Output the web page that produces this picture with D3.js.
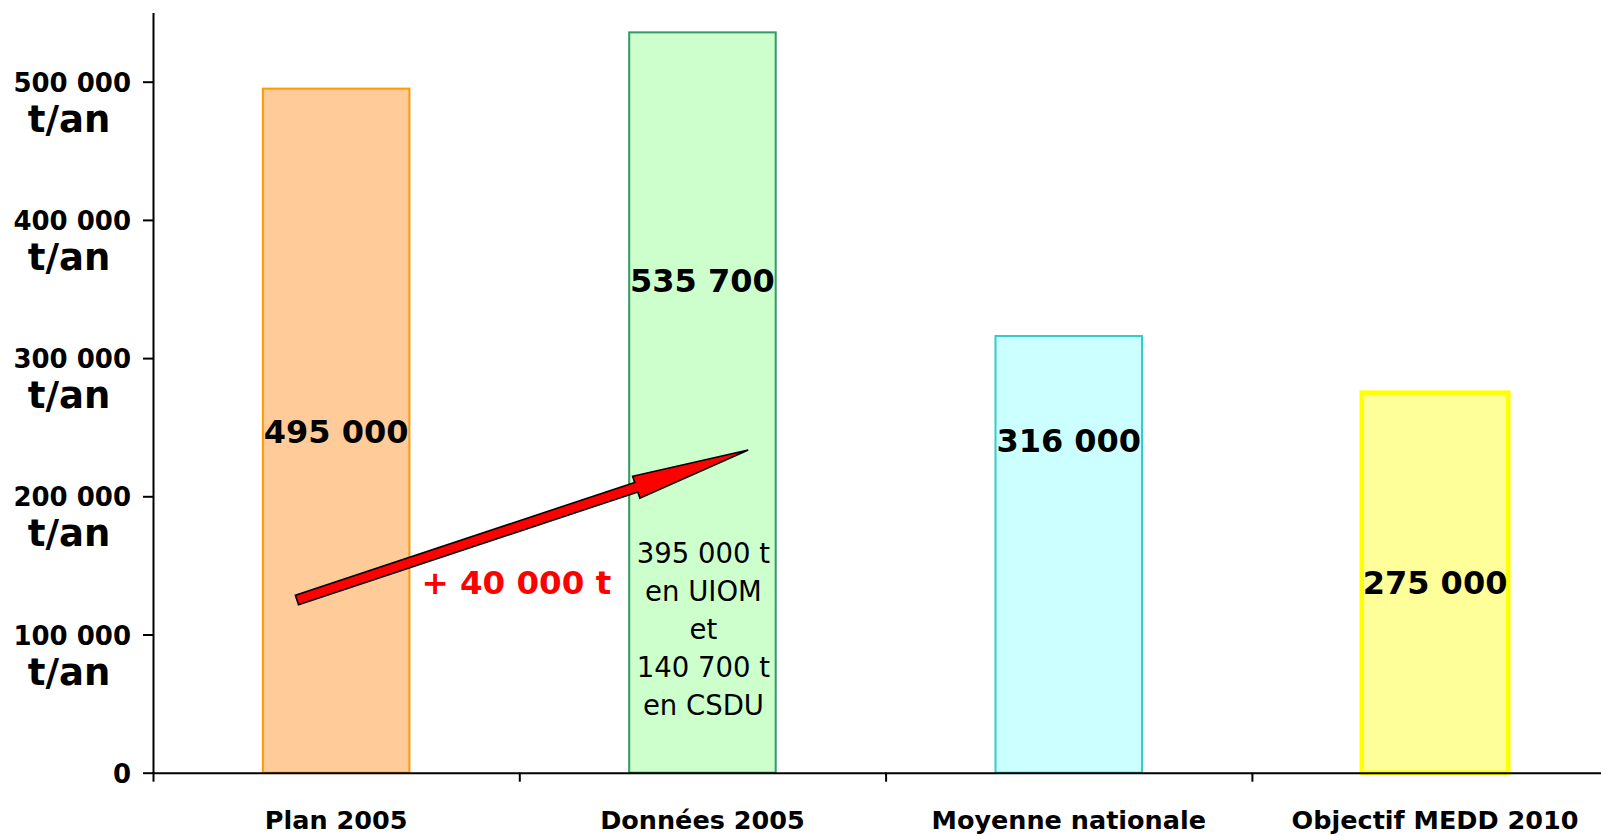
<!DOCTYPE html>
<html><head><meta charset="utf-8">
<script src="https://cdn.jsdelivr.net/npm/d3@7"></script>
<style>body{margin:0;background:#fff;} svg{display:block;font-family:"DejaVu Sans",Verdana,sans-serif;}</style>
</head><body><svg id="c" width="1601" height="836"></svg>
<script>
const categories = ["Plan 2005", "Données 2005", "Moyenne nationale", "Objectif MEDD 2010"];
const values = [495000, 535700, 316000, 275000];
const valueLabels = ["495 000", "535 700", "316 000", "275 000"];
const labelAnchors = [247000, 356500, 240700, 137500];
const fills = ["#FFCC99", "#CCFFCC", "#CCFFFF", "#FFFF99"];
const strokes = ["#FF9900", "#339966", "#33CCCC", "#FFFF00"];
const yTicks = [0, 100000, 200000, 300000, 400000, 500000];
const yTickLabels = ["0", "100 000", "200 000", "300 000", "400 000", "500 000"];
const yUnit = "t/an";
const detailLines = ["395 000 t", "en UIOM", "et", "140 700 t", "en CSDU"];
const detailAnchor = 159000;
const arrowFrom = {cat: "Plan 2005", shift: -0.107, value: 125000};
const arrowTo = {cat: "Données 2005", shift: 0.125, value: 233500};
const deltaLabel = "+ 40 000 t";
const deltaAnchor = 138000;

const svg = d3.select("#c");
const x0 = 153, yBase = 772.7, yTop = 12.6, step = 366.3;
const y = d3.scaleLinear().domain([0, 550000]).range([yBase, yTop]);
const x = d3.scaleBand().domain(categories).range([x0, x0 + 4 * step]).paddingInner(0.6).paddingOuter(0.3);
const xi = d3.scaleLinear().domain([0, 4]).range([x0, x0 + 4 * step]);
const cx = c => x(c) + x.bandwidth() / 2;

// bars
svg.append("g").selectAll("rect").data(categories).join("rect")
  .attr("x", c => x(c)).attr("width", x.bandwidth())
  .attr("y", (c, i) => y(values[i])).attr("height", (c, i) => yBase - y(values[i]))
  .attr("fill", (c, i) => fills[i]).attr("stroke", (c, i) => strokes[i])
  .attr("stroke-width", (c, i) => i === 3 ? 4.5 : 2);

// value labels
svg.append("g").selectAll("text").data(categories).join("text")
  .attr("x", c => cx(c)).attr("y", (c, i) => y(labelAnchors[i]))
  .attr("dy", "0.36em").attr("text-anchor", "middle")
  .attr("font-size", 32).attr("font-weight", "bold").attr("fill", "#000")
  .text((c, i) => valueLabels[i]);

// detail lines in second bar
svg.append("g").selectAll("text").data(detailLines).join("text")
  .attr("x", cx(categories[1]) + 1).attr("y", (d, i) => y(detailAnchor) + i * 38)
  .attr("dy", "0.36em").attr("text-anchor", "middle")
  .attr("font-size", 27.5).attr("fill", "#000").text(d => d);

// axes
svg.append("g").attr("transform", `translate(${x0},0)`)
  .call(d3.axisLeft(y).tickValues(yTicks).tickSize(10).tickSizeOuter(0).tickFormat(""));
svg.append("g").attr("transform", `translate(0,${yBase})`)
  .call(d3.axisBottom(xi).tickValues([0, 1, 2, 3, 4]).tickSize(9).tickSizeOuter(0).tickFormat(""));
svg.selectAll(".domain, .tick line").attr("stroke", "#000").attr("stroke-width", 2);

// y tick labels
const yl = svg.append("g").attr("font-weight", "bold").attr("fill", "#000");
yl.selectAll("text.num").data(yTicks).join("text").attr("class", "num")
  .attr("x", 131).attr("y", d => y(d) + 10).attr("text-anchor", "end")
  .attr("font-size", 26).text((d, i) => yTickLabels[i]);
yl.selectAll("text.unit").data(yTicks.filter(d => d > 0)).join("text").attr("class", "unit")
  .attr("x", 69).attr("y", d => y(d) + 50).attr("text-anchor", "middle")
  .attr("font-size", 37).text(yUnit);

// category labels
svg.append("g").selectAll("text").data(categories).join("text")
  .attr("x", c => cx(c)).attr("y", 829).attr("text-anchor", "middle")
  .attr("font-size", 25.5).attr("font-weight", "bold").attr("fill", "#000").text(c => c);

// arrow
const T = [cx(arrowFrom.cat) + arrowFrom.shift * step, y(arrowFrom.value)];
const P = [cx(arrowTo.cat) + arrowTo.shift * step, y(arrowTo.value)];
const L = Math.hypot(P[0] - T[0], P[1] - T[1]);
const u = [(P[0] - T[0]) / L, (P[1] - T[1]) / L];
const n = [-u[1], u[0]];
const hw = 5, bw = 11.5, hl = 118;
const B = [P[0] - u[0] * hl, P[1] - u[1] * hl];
const pt = (p, k) => [p[0] + n[0] * k, p[1] + n[1] * k];
const poly = [pt(T, hw), pt(B, hw), pt(B, bw), P, pt(B, -bw), pt(B, -hw), pt(T, -hw)];
svg.append("polygon").attr("points", poly.map(p => p.join(",")).join(" "))
  .attr("fill", "#FF0000").attr("stroke", "#000").attr("stroke-width", 1.6).attr("stroke-linejoin", "miter");

// delta label
svg.append("text").attr("x", xi(1) - 3).attr("y", y(deltaAnchor)).attr("dy", "0.36em")
  .attr("text-anchor", "middle").attr("font-size", 32.5).attr("font-weight", "bold")
  .attr("fill", "#FF0000").text(deltaLabel);
</script></body></html>
